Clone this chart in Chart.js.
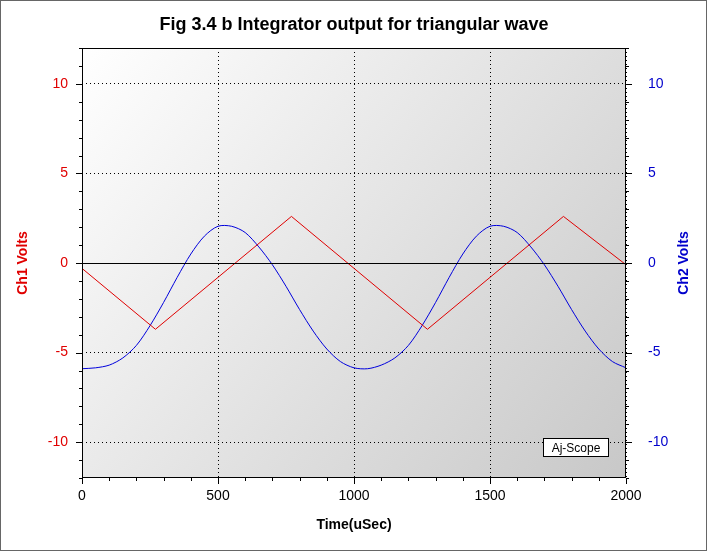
<!DOCTYPE html>
<html><head><script src="https://cdn.jsdelivr.net/npm/chart.js"></script>
<style>html,body{margin:0;padding:0;background:#fff}canvas{display:block}</style></head>
<body><div style="width:707px;height:551px"><canvas id="c"></canvas></div>
<script>
const redX=[0,270,770,1270,1770,2000];
const redY=[-0.3,-3.7,2.6,-3.7,2.6,-0.1];
const blueX=[0,50,100,150,200,250,300,350,400,450,500,550,600,650,700,750,800,850,900,950,1000,1050,1100,1150,1200,1250,1300,1350,1400,1450,1500,1550,1600,1650,1700,1750,1800,1850,1900,1950,2000];
const blueY=[-5.9,-5.85,-5.7,-5.3,-4.6,-3.5,-2.2,-0.8,0.5,1.5,2.05,2.05,1.7,0.9,-0.1,-1.3,-2.6,-3.8,-4.8,-5.5,-5.85,-5.9,-5.7,-5.3,-4.6,-3.5,-2.2,-0.8,0.5,1.5,2.05,2.05,1.7,0.9,-0.1,-1.3,-2.6,-3.8,-4.8,-5.5,-5.85];
const xTicks=[0,500,1000,1500,2000];
const yTicks=[-10,-5,0,5,10];
const F='"Liberation Sans", Arial, sans-serif';
const deco={id:'deco',
beforeDraw(c){const {ctx,chartArea:a}=c;ctx.save();
 ctx.fillStyle='#fff';ctx.fillRect(0,0,c.width,c.height);
 const g=ctx.createLinearGradient(a.left,a.top,a.right,a.bottom);g.addColorStop(0,'#ffffff');g.addColorStop(1,'#c8c8c8');
 ctx.fillStyle=g;ctx.fillRect(a.left,a.top,a.right-a.left,a.bottom-a.top);ctx.restore();},
afterDraw(c){const {ctx,chartArea:a,scales}=c;ctx.save();
 ctx.strokeStyle='#000';ctx.lineWidth=1;
 const y0=Math.round(scales.y.getPixelForValue(0))+0.5;ctx.beginPath();ctx.moveTo(a.left,y0);ctx.lineTo(a.right,y0);ctx.stroke();
 ctx.strokeRect(a.left+0.5,a.top+0.5,a.right-a.left-1,a.bottom-a.top-1);
 ctx.beginPath();
 for(let v=0;v<=2000;v+=100){const x=Math.round(scales.x.getPixelForValue(v))+0.5;const L=v%500===0?6:3;ctx.moveTo(x,a.bottom);ctx.lineTo(x,a.bottom+L);}
 for(let v=-12;v<=12;v+=1){const y=Math.round(scales.y.getPixelForValue(v))+0.5;const L=v%5===0?6:3;ctx.moveTo(a.left,y);ctx.lineTo(a.left-L,y);ctx.moveTo(a.right,y);ctx.lineTo(a.right+L,y);}
 ctx.stroke();
 ctx.fillStyle='#000';ctx.font='bold 18px '+F;ctx.textAlign='center';ctx.fillText('Fig 3.4 b Integrator output for triangular wave',354,30);
 ctx.font='bold 14px '+F;ctx.fillText('Time(uSec)',(a.left+a.right)/2,529);
 ctx.save();ctx.translate(27,(a.top+a.bottom)/2);ctx.rotate(-Math.PI/2);ctx.fillStyle='#e00000';ctx.fillText('Ch1 Volts',0,0);ctx.restore();
 ctx.save();ctx.translate(688,(a.top+a.bottom)/2);ctx.rotate(-Math.PI/2);ctx.fillStyle='#0000cc';ctx.fillText('Ch2 Volts',0,0);ctx.restore();
 ctx.font='12px '+F;ctx.fillStyle='#fff';ctx.fillRect(543,438,65,18);ctx.strokeRect(543.5,438.5,65,18);ctx.fillStyle='#000';ctx.fillText('Aj-Scope',576,452);
 ctx.strokeStyle='#666';ctx.strokeRect(0.5,0.5,c.width-1,c.height-1);
 ctx.restore();}};
const grid={color:'#000',drawTicks:false,lineWidth:1};
const bord={display:false,dash:[1,3]};
new Chart(document.getElementById('c'),{type:'scatter',
data:{datasets:[
 {data:redX.map((x,i)=>({x,y:redY[i]})),borderColor:'#e00000',showLine:true,pointRadius:0,borderWidth:1,yAxisID:'y'},
 {data:blueX.map((x,i)=>({x,y:blueY[i]})),borderColor:'#0000dd',showLine:true,pointRadius:0,borderWidth:1,tension:0.3,yAxisID:'y2'}]},
options:{responsive:true,maintainAspectRatio:false,animation:false,
 layout:{padding:{top:48,bottom:0,left:0,right:0}},
 plugins:{legend:{display:false},tooltip:{enabled:false}},
 scales:{
  x:{type:'linear',min:0,max:2000,grid:grid,border:bord,
   afterBuildTicks:s=>{s.ticks=xTicks.map(v=>({value:v}))},afterFit:s=>{s.height=73},
   ticks:{color:'#000',font:{size:14,family:F},padding:10,maxRotation:0,callback:v=>String(v)}},
  y:{min:-12,max:12,position:'left',grid:grid,border:bord,
   afterBuildTicks:s=>{s.ticks=yTicks.map(v=>({value:v}))},afterFit:s=>{s.width=82},
   ticks:{color:'#e00000',font:{size:14,family:F},padding:14}},
  y2:{min:-12,max:12,position:'right',grid:{display:false},border:{display:false},
   afterBuildTicks:s=>{s.ticks=yTicks.map(v=>({value:v}))},afterFit:s=>{s.width=81},
   ticks:{color:'#0000cc',font:{size:14,family:F},padding:14}}}},
plugins:[deco]});
</script></body></html>
